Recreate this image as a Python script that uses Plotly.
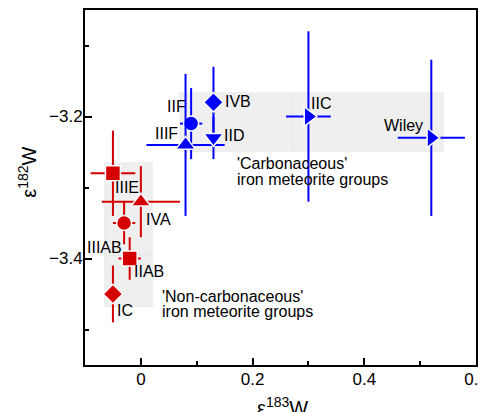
import plotly.graph_objects as go

# ---- data ----
groups = ["IIIE", "IVA", "IIIAB", "IIAB", "IC", "IIF", "IVB", "IIIF", "IID", "IIC", "Wiley"]
e183 = [-0.05, 0.00, -0.03, -0.02, -0.05, 0.09, 0.13, 0.08, 0.13, 0.30, 0.52]
e183_err = [0.04, 0.07, 0.02, 0.02, 0.0, 0.02, 0.0, 0.07, 0.0, 0.04, 0.06]
e182 = [-3.28, -3.32, -3.35, -3.40, -3.45, -3.21, -3.18, -3.24, -3.23, -3.20, -3.23]
e182_err = [0.06, 0.05, 0.03, 0.03, 0.04, 0.05, 0.05, 0.10, 0.03, 0.12, 0.11]
kind = ["NC", "NC", "NC", "NC", "NC", "C", "C", "C", "C", "C", "C"]
symbols = ["square", "triangle-up", "circle", "square", "diamond",
           "circle", "diamond", "triangle-up", "triangle-down", "triangle-right", "triangle-right"]
sizes = [15, 17, 15, 15, 15, 15, 15, 17, 17, 17, 17]
# label offsets in pixels (x right, y up)
label_dx = [14, 18, -20, 19, 12, -15, 25, -19, 21, 13, -28]
label_dy = [-14, -18, -24, -13, -16, 17, 1, 11, 2, 13, 12]
x_tickvals = [0, 0.2, 0.4, 0.6]
x_ticktext = ["0", "0.2", "0.4", "0.6"]

colors = {"NC": "#d40000", "C": "#0000ff"}

fig = go.Figure()

# background group boxes
shapes = [
    dict(type="rect", xref="x", yref="y", x0=-0.065, x1=0.0205, y0=-3.468, y1=-3.395,
         fillcolor="#efefef", line=dict(color="#e6e6e6", width=0.6), layer="below"),
    dict(type="rect", xref="x", yref="y", x0=-0.065, x1=0.0205, y0=-3.395, y1=-3.265,
         fillcolor="#efefef", line=dict(color="#e6e6e6", width=0.6), layer="below"),
    dict(type="rect", xref="x", yref="y", x0=0.07, x1=0.2724, y0=-3.2496, y1=-3.1665,
         fillcolor="#efefef", line=dict(color="#e6e6e6", width=0.6), layer="below"),
    dict(type="rect", xref="x", yref="y", x0=0.2724, x1=0.5415, y0=-3.2496, y1=-3.1665,
         fillcolor="#efefef", line=dict(color="#e6e6e6", width=0.6), layer="below"),
]

for i, g in enumerate(groups):
    c = colors[kind[i]]
    fig.add_trace(go.Scatter(
        x=[e183[i]], y=[e182[i]], mode="markers", name=g, showlegend=False,
        marker=dict(symbol=symbols[i], size=sizes[i], color=c,
                    line=dict(color="white", width=1.5)),
        error_x=dict(type="data", array=[e183_err[i]], color=c, thickness=2, width=0,
                     visible=e183_err[i] > 0),
        error_y=dict(type="data", array=[e182_err[i]], color=c, thickness=2, width=0),
    ))

annotations = []
for i, g in enumerate(groups):
    annotations.append(dict(x=e183[i], y=e182[i], xref="x", yref="y", text=g,
                            showarrow=False, xshift=label_dx[i], yshift=label_dy[i],
                            xanchor="center", yanchor="middle",
                            font=dict(size=16, color="black")))

notes = [
    ("'Carbonaceous'", 0.1685, -3.2659),
    ("iron meteorite groups", 0.1685, -3.2885),
    ("'Non-carbonaceous'", 0.0343, -3.4538),
    ("iron meteorite groups", 0.0343, -3.4745),
]
for t, x, y in notes:
    annotations.append(dict(x=x, y=y, xref="x", yref="y", text=t, showarrow=False,
                            xanchor="left", yanchor="middle", align="left",
                            font=dict(size=16, color="black")))

# axis titles
annotations.append(dict(x=0.506, y=-0.076, xref="paper", yref="paper", text="ε<sup>183</sup>W",
                        showarrow=False, xanchor="center", yanchor="top", font=dict(size=20)))
annotations.append(dict(x=-0.146, y=0.544, xref="paper", yref="paper", text="ε<sup>182</sup>W",
                        showarrow=False, xanchor="center", yanchor="middle", textangle=-90,
                        font=dict(size=20)))

fig.update_layout(
    width=486, height=404,
    margin=dict(l=77, r=18, t=2, b=47),
    paper_bgcolor="white", plot_bgcolor="white",
    font=dict(family="Liberation Sans, Arial, sans-serif", color="black"),
    shapes=shapes, annotations=annotations,
    xaxis=dict(range=[-0.1, 0.6], tickmode="array", tickvals=x_tickvals, ticktext=x_ticktext,
               ticks="inside", ticklen=7, tickwidth=1.5, ticklabeloverflow="allow",
               tickcolor="black", showgrid=False, zeroline=False, automargin=False,
               showline=True, linecolor="black", linewidth=2, mirror=True,
               tickfont=dict(size=17), ticklabelstandoff=-2,
               minor=dict(tickmode="array", tickvals=[0.1, 0.3, 0.5], ticks="inside", ticklen=4,
                          tickwidth=1.5, tickcolor="black")),
    yaxis=dict(range=[-3.55, -3.05], dtick=0.2, tick0=-3.2, ticks="inside", ticklen=7, tickwidth=1.5,
               tickcolor="black", showgrid=False, zeroline=False, automargin=False,
               showline=True, linecolor="black", linewidth=2, mirror=True,
               tickfont=dict(size=17), tickformat=".1f", ticklabelstandoff=-3,
               minor=dict(dtick=0.1, tick0=-3.1, ticks="inside", ticklen=4, tickwidth=1.5, tickcolor="black")),
)

fig.write_html("out.html")
